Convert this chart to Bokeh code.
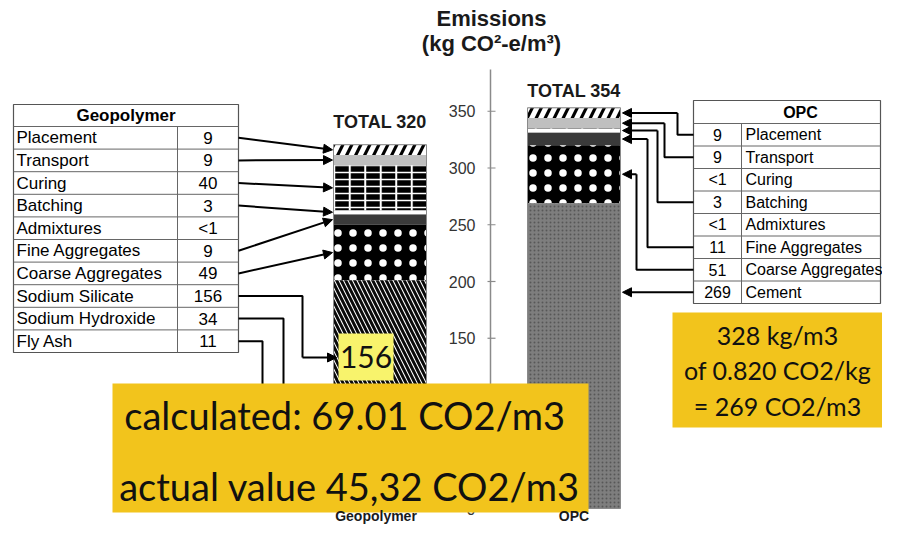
import numpy as np
from bokeh.plotting import figure
from bokeh.models import Range1d, Arrow, NormalHead, ColumnDataSource
from bokeh.core.properties import value
from bokeh.embed import file_html
from bokeh.resources import INLINE

# ---------------- data ----------------
title_lines = ["Emissions", "(kg CO\u00b2-e/m\u00b3)"]
bar_names = ["Geopolymer", "OPC"]
totals = [320, 354]
y_ticks = [0, 50, 100, 150, 200, 250, 300, 350]

geo_labels = ["Placement", "Transport", "Curing", "Batching", "Admixtures",
              "Fine Aggregates", "Coarse Aggregates", "Sodium Silicate",
              "Sodium Hydroxide", "Fly Ash"]
geo_text = ["9", "9", "40", "3", "<1", "9", "49", "156", "34", "11"]
geo_values = [9, 9, 40, 3, 0.5, 9, 49, 156, 34, 11]

opc_labels = ["Placement", "Transport", "Curing", "Batching", "Admixtures",
              "Fine Aggregates", "Coarse Aggregates", "Cement"]
opc_text = ["9", "9", "<1", "3", "<1", "11", "51", "269"]
opc_values = [9, 9, 0.5, 3, 0.5, 11, 51, 269]

note_156 = "156"
note_geo = ["calculated: 69.01  CO2/m3", "actual value 45,32 CO2/m3"]
note_opc = ["328 kg/m3", "of 0.820 CO2/kg", "= 269 CO2/m3"]

# ---------------- layout helpers (picture pixels) ----------------
W, H = 882, 524
Y0, K = 508.0, 1.135          # picture y of value 0, pixels per unit


def v(py):
    return (Y0 - py) / K


def stack(vals):
    """vals listed top-to-bottom -> bottoms, tops aligned to the same order"""
    rev = np.array(vals[::-1], dtype=float)
    tops = np.cumsum(rev)
    bots = tops - rev
    return bots[::-1], tops[::-1]


SANS = value("Liberation Sans")
HUM = value("Lato")

p = figure(width=W, height=H, x_range=Range1d(0, W), y_range=Range1d(v(H), v(0)),
           output_backend="svg", toolbar_location=None, min_border=0,
           x_axis_location=None, y_axis_location=None)
p.grid.visible = False
p.outline_line_color = None
p.background_fill_color = "white"
p.border_fill_color = "white"

# ---------------- title ----------------
p.text(x=[491, 491], y=[v(18), v(43)], text=title_lines, text_font=SANS,
       text_font_style="bold", text_font_size="22px", text_align="center",
       text_baseline="middle", text_color="#1a1a1a")


# ---------------- tables ----------------
def table(x0, x1, xdiv, ytop, hdr_bottom, row_h, title, title_x, labels, texts,
          label_x, value_x, fs):
    n = len(labels)
    ybot = hdr_bottom + n * row_h
    p.quad(left=[x0], right=[x1], top=[v(ytop)], bottom=[v(ybot)],
           fill_color="white", line_color="#555555", line_width=1.2)
    ys = [v(hdr_bottom + i * row_h) for i in range(n)]
    p.segment(x0=x0, x1=x1, y0=ys, y1=ys, line_color="#666666", line_width=1)
    p.segment(x0=[xdiv], x1=[xdiv], y0=[v(hdr_bottom)], y1=[v(ybot)],
              line_color="#666666", line_width=1)
    centers = [hdr_bottom + (i + 0.5) * row_h for i in range(n)]
    cy = [v(c) for c in centers]
    p.text(x=label_x, y=cy, text=labels, text_font=SANS, text_font_size=fs,
           text_baseline="middle", text_align="left", text_color="black")
    p.text(x=value_x, y=cy, text=texts, text_font=SANS, text_font_size=fs,
           text_baseline="middle", text_align="center", text_color="black")
    p.text(x=[title_x], y=[v((ytop + hdr_bottom) / 2)], text=[title], text_font=SANS,
           text_font_size=fs, text_font_style="bold", text_baseline="middle",
           text_align="center", text_color="black")
    return centers


geo_rows = table(13, 238, 177, 104, 126, 22.6, bar_names[0], 125.5,
                 geo_labels, geo_text, 16, 207.5, "17px")
opc_rows = table(693, 880, 741, 100, 123, 22.5, bar_names[1], 800,
                 opc_labels, opc_text, 745, 717, "16px")

# ---------------- connector lines (drawn below boxes) ----------------
g_bot, g_top = stack(geo_values)
g_mid = (g_bot + g_top) / 2
o_bot, o_top = stack(opc_values)
o_mid = (o_bot + o_top) / 2

i_sil = geo_labels.index("Sodium Silicate")
i_hyd = geo_labels.index("Sodium Hydroxide")
i_fly = geo_labels.index("Fly Ash")
ARROW_156_Y = 357
elbow_xs = [[238, 302, 302], [238, 283, 283], [238, 262, 262]]
elbow_ys = [[v(geo_rows[i_sil]), v(geo_rows[i_sil]), v(ARROW_156_Y)],
            [v(geo_rows[i_hyd]), v(geo_rows[i_hyd]), v(400)],
            [v(geo_rows[i_fly]), v(geo_rows[i_fly]), v(400)]]

opc_elbow = {"Placement": 677, "Transport": 664, "Batching": 657,
             "Fine Aggregates": 647, "Coarse Aggregates": 636}
o_arrow_xs, o_arrow_ys, o_arrow_ye = [], [], []
for lab, ex in opc_elbow.items():
    i = opc_labels.index(lab)
    elbow_xs.append([693, ex, ex])
    elbow_ys.append([v(opc_rows[i]), v(opc_rows[i]), o_mid[i]])
    o_arrow_xs.append(ex)
    o_arrow_ys.append(o_mid[i])
    o_arrow_ye.append(o_mid[i])
i_cem = opc_labels.index("Cement")
o_arrow_xs.append(693)
o_arrow_ys.append(v(opc_rows[i_cem]))
o_arrow_ye.append(v(opc_rows[i_cem]))

p.multi_line(xs=elbow_xs, ys=elbow_ys, line_color="black", line_width=2)

# ---------------- stacked bars ----------------
GEO_X, OPC_X, BAR_W = 379.5, 573.5, 93

STY = {
    "Placement": dict(fill_color="black", hatch_pattern="right_diagonal_line",
                      hatch_color="white", hatch_scale=18, hatch_weight=5),
    "Transport": dict(fill_color="#bfbfbf"),
    "Curing": dict(fill_color="black", hatch_pattern="horizontal_line",
                   hatch_color="white", hatch_scale=7, hatch_weight=1.5),
    "Batching": dict(fill_color="white"),
    "Admixtures": dict(fill_color="#d0d0d0"),
    "Fine Aggregates": dict(fill_color="#3a3a3a"),
    "Coarse Aggregates": dict(fill_color="black", hatch_pattern="dot",
                              hatch_color="white", hatch_scale=15, hatch_weight=1),
    "Sodium Silicate": dict(fill_color="white", hatch_pattern="left_diagonal_line",
                            hatch_color="#0a0a0a", hatch_scale=9, hatch_weight=3),
    "Sodium Hydroxide": dict(fill_color="#9a9a9a"),
    "Fly Ash": dict(fill_color="#666666"),
    "Cement": dict(fill_color="#7e7e7e", hatch_pattern="dot", hatch_color="#575757",
                   hatch_scale=4, hatch_weight=1),
}

for cx, labels, bots, tops in [(GEO_X, geo_labels, g_bot, g_top),
                               (OPC_X, opc_labels, o_bot, o_top)]:
    for lab, bb, tt in zip(labels, bots, tops):
        p.vbar(x=[cx], width=BAR_W, bottom=[bb], top=[tt], line_color=None, **STY[lab])
        if lab == "Curing":
            p.vbar(x=[cx], width=BAR_W, bottom=[bb], top=[tt], line_color=None,
                   fill_alpha=0, hatch_pattern="vertical_line", hatch_color="white",
                   hatch_scale=15.5, hatch_weight=2)
    p.vbar(x=[cx], width=BAR_W, bottom=[0], top=[tops[0]], fill_color=None,
           line_color="#8a8a8a", line_width=1)

p.text(x=[GEO_X, OPC_X], y=[g_top[0], o_top[0]], text=[f"TOTAL {t}" for t in totals],
       y_offset=[-23, -17], text_font=SANS, text_font_style="bold", text_font_size="18px",
       text_align="center", text_baseline="middle", text_color="#1a1a1a")

# ---------------- y axis ----------------
AX = 490
p.segment(x0=[AX], x1=[AX], y0=[0], y1=[v(69)], line_color="#8a8a8a", line_width=1.5)
p.segment(x0=AX - 3, x1=AX + 5, y0=y_ticks, y1=y_ticks, line_color="#8a8a8a", line_width=1.2)
p.text(x=AX - 15, y=y_ticks, text=[str(t) for t in y_ticks], text_font=SANS,
       text_font_size="16px", text_align="right", text_baseline="middle", text_color="#333333")

# ---------------- yellow notes ----------------
p.quad(left=[338], right=[393], top=[v(333)], bottom=[v(380)], fill_color="#f8f36c",
       line_color=None)
p.text(x=[365.5], y=[v(356)], text=[note_156], text_font=HUM, text_font_size="30px",
       text_align="center", text_baseline="middle", text_color="#111111")

p.quad(left=[112], right=[588], top=[v(383)], bottom=[v(512)], fill_color="#f2c41c",
       line_color=None)
p.text(x=[349, 349], y=[v(414), v(485)], text=note_geo, text_font=HUM, text_font_size="38px",
       text_align="center", text_baseline="middle", text_color="#111111")

p.quad(left=[672], right=[W], top=[v(312)], bottom=[v(427)], fill_color="#f2c41c",
       line_color=None)
p.text(x=[777] * 3, y=[v(334), v(369), v(405)], text=note_opc, text_font=HUM,
       text_font_size="25px", text_align="center", text_baseline="middle",
       text_color="#111111")

# ---------------- category labels ----------------
p.text(x=[GEO_X - 4, OPC_X], y=[v(515)] * 2, text=bar_names, text_font=SANS,
       text_font_style="bold", text_font_size="14px", text_align="center",
       text_baseline="middle", text_color="#1a1a1a")

# ---------------- arrows ----------------
HEAD = dict(size=9, fill_color="black", line_color="black")
geo_arrow_rows = ["Placement", "Transport", "Curing", "Batching", "Fine Aggregates",
                  "Coarse Aggregates"]
ga = [geo_labels.index(r) for r in geo_arrow_rows]
src_g = ColumnDataSource(dict(xs=[238] * len(ga) + [302],
                              ys=[v(geo_rows[i]) for i in ga] + [v(ARROW_156_Y)],
                              xe=[332] * len(ga) + [336],
                              ye=[g_mid[i] for i in ga] + [v(ARROW_156_Y)]))
p.add_layout(Arrow(end=NormalHead(**HEAD), x_start="xs", y_start="ys", x_end="xe",
                   y_end="ye", source=src_g, line_width=2, line_color="black"))

src_o = ColumnDataSource(dict(xs=o_arrow_xs, ys=o_arrow_ys,
                              xe=[622] * len(o_arrow_xs), ye=o_arrow_ye))
p.add_layout(Arrow(end=NormalHead(**HEAD), x_start="xs", y_start="ys", x_end="xe",
                   y_end="ye", source=src_o, line_width=2, line_color="black"))

open("out.html", "w").write(file_html(p, INLINE))
